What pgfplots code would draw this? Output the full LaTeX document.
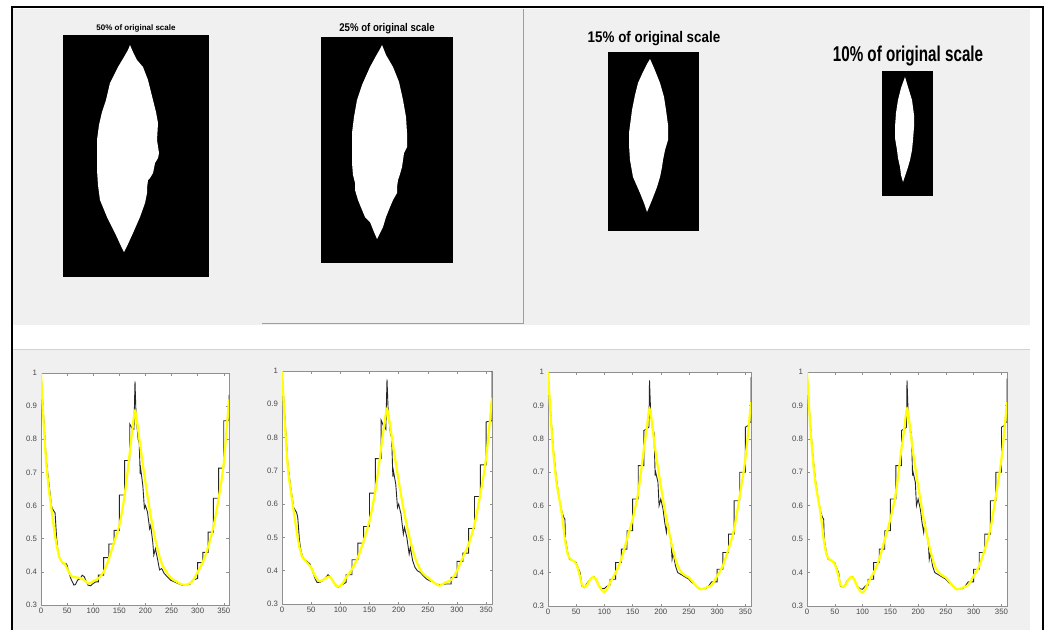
\documentclass[border=0pt]{standalone}
\usepackage{fontspec}
\setmainfont{Liberation Sans}
\usepackage{pgfplots}
\pgfplotsset{compat=1.18}
\definecolor{panel}{HTML}{F0F0F0}
\definecolor{pinkline}{HTML}{E070E0}
\definecolor{yel}{RGB}{255,255,0}
\definecolor{axc}{HTML}{8F8F8F}
\definecolor{labc}{HTML}{484848}
\pgfplotsset{
  curve/.style={scale only axis, anchor=north west, width=#1,
    height=232pt, xmin=0, xmax=360, ymin=0.3, ymax=1,
    xtick={0,50,...,350}, ytick={0.3,0.4,0.5,0.6,0.7,0.8,0.9,1},
    tick align=inside, major tick length=2.5pt,
    axis line style={axc, line width=0.6pt},
    tick style={axc, line width=0.5pt},
    ticklabel style={font=\fontsize{7.8}{9}\selectfont, text=labc},
    /pgf/number format/assume math mode=true,
    yticklabel style={/pgf/number format/fixed, /pgf/number format/precision=1, xshift=-0.5pt},
    xticklabel style={/pgf/number format/fixed},
    axis background/.style={fill=white},
    clip=true},
  curve/.default=188pt,
  leaf/.style n args={4}{scale only axis, anchor=north west, hide axis,
    xmin=#1, xmax=#2, ymin=#3, ymax=#4, y dir=reverse, clip=false},
  blk/.style={black!85, line width=0.9pt},
  yl/.style={yel, line width=2.2pt, smooth, tension=0.5},
}
\begin{document}
\begin{tikzpicture}
\useasboundingbox (0,0) rectangle (1047pt,-630pt);
\fill[white] (0,0) rectangle (1047pt,-630pt);
\fill[panel] (13pt,-9pt) rectangle (1030pt,-325pt);
\fill[panel] (13pt,-349pt) rectangle (1030pt,-630pt);
\draw[gray!35, line width=0.6pt] (13pt,-349pt) -- (1030pt,-349pt);
\draw[pinkline, line width=1pt] (262pt,-323pt) -- (523pt,-323pt) -- (523pt,-9pt);
\draw[black, line width=2pt] (12pt,-630pt) -- (12pt,-7pt) -- (1043pt,-7pt) -- (1043pt,-630pt);

% titles
\node[anchor=base, inner sep=0pt] at (136pt,-30.7pt) {\fontsize{8}{9}\selectfont\bfseries 50\% of original scale};
\node[anchor=base, inner sep=0pt] at (387pt,-31pt) {\scalebox{0.86}[1]{\fontsize{11.2}{12}\selectfont\bfseries 25\% of original scale}};
\node[anchor=base, inner sep=0pt] at (654pt,-42.7pt) {\scalebox{0.87}[1]{\fontsize{15.4}{17}\selectfont\bfseries 15\% of original scale}};
\node[anchor=base, inner sep=0pt] at (908pt,-61pt) {\scalebox{0.71}[1]{\fontsize{21.4}{23}\selectfont\bfseries 10\% of original scale}};

% leaf 1
\begin{axis}[leaf={63}{209}{35}{277}, at={(63pt,-35pt)}, width=146pt, height=242pt]
\addplot[fill=black, draw=none] coordinates {(63,35)(209,35)(209,277)(63,277)};
\addplot[fill=white, draw=none] coordinates {(130,45)(133,52)(137,60)(143,67)(148,80)(153,100)(156,112)(158,123)(157,140)(159,153)(158,158)(155,163)(154,168)(153,173)(150,178)(148,180)(147,188)(147,193)(145,203)(140,217)(133,233)(128,244)(124,252)(121,246)(115,233)(107,217)(100,200)(98,185)(97,170)(97,155)(97,140)(99,125)(102,112)(106,100)(110,83)(118,67)(124,57)(128,50)};
\end{axis}
% leaf 2
\begin{axis}[leaf={321}{453}{37}{263}, at={(321pt,-37pt)}, width=132pt, height=226pt]
\addplot[fill=black, draw=none] coordinates {(321,37)(453,37)(453,263)(321,263)};
\addplot[fill=white, draw=none] coordinates {(382,45)(386,55)(393,67)(399,82)(403,100)(406,117)(407,133)(407,147)(404,153)(403,160)(402,167)(400,174)(398,180)(397,187)(397,193)(393,200)(390,207)(386,217)(383,227)(379,235)(377,239)(374,232)(370,222)(365,217)(360,205)(358,200)(355,190)(355,183)(353,175)(352,163)(352,150)(352,133)(354,117)(357,100)(362,85)(370,67)(376,56)(380,49)};
\end{axis}
% leaf 3
\begin{axis}[leaf={608}{699}{52}{231}, at={(608pt,-52pt)}, width=91pt, height=179pt]
\addplot[fill=black, draw=none] coordinates {(608,52)(699,52)(699,231)(608,231)};
\addplot[fill=white, draw=none] coordinates {(650,59)(654,68)(660,83)(664,97)(666,110)(668,125)(668,140)(665,150)(663,160)(662,167)(660,177)(657,187)(652,200)(647,212)(644,203)(640,193)(633,177)(630,160)(629,145)(629,133)(631,118)(632,110)(635,95)(638,83)(643,72)(647,64)};
\end{axis}
% leaf 4
\begin{axis}[leaf={882}{933}{71}{196}, at={(882pt,-71pt)}, width=51pt, height=125pt]
\addplot[fill=black, draw=none] coordinates {(882,71)(933,71)(933,196)(882,196)};
\addplot[fill=white, draw=none] coordinates {(905,77)(908,87)(912,100)(914,115)(914,127)(913,140)(912,150)(910,160)(908,167)(905,176)(903,182)(901,175)(900,167)(898,158)(897,150)(895,138)(895,127)(896,113)(898,100)(901,88)};
\end{axis}

% plot 1
\begin{axis}[curve=188pt, at={(41pt,-373pt)}]
\addplot[blk] coordinates {(0,1.0)(5,0.87)(10,0.74)(15,0.67)(20,0.60)(22,0.59)(27,0.578)(30,0.50)(32,0.47)(35,0.445)(40,0.43)(42,0.425)(48,0.425)(50,0.42)(53,0.40)(57,0.38)(60,0.37)(63,0.36)(66,0.362)(70,0.375)(75,0.38)(79,0.39)(83,0.385)(87,0.37)(90,0.36)(95,0.358)(100,0.365)(105,0.37)(110,0.37)(110,0.39)(120,0.39)(120,0.443)(130,0.443)(130,0.484)(140,0.484)(140,0.525)(150,0.525)(150,0.632)(160,0.632)(160,0.736)(170,0.736)(170,0.846)(174,0.834)(178,0.83)(180,0.975)(182,0.87)(186,0.80)(188,0.79)(190,0.695)(191,0.71)(195,0.66)(198,0.592)(200,0.60)(204,0.58)(208,0.53)(210,0.54)(214,0.49)(216,0.451)(219,0.47)(223,0.44)(227,0.406)(231,0.41)(236,0.395)(242,0.385)(248,0.375)(255,0.37)(262,0.365)(270,0.36)(285,0.362)(290,0.375)(300,0.38)(300,0.428)(310,0.428)(310,0.459)(320,0.459)(320,0.52)(330,0.52)(330,0.622)(340,0.622)(340,0.713)(350,0.713)(350,0.856)(358,0.856)(360,0.86)(360,0.934)};
\addplot[yl] coordinates {(0,1.0)(5,0.85)(10,0.73)(15,0.65)(20,0.59)(25,0.53)(30,0.48)(35,0.445)(40,0.43)(45,0.425)(50,0.41)(55,0.395)(60,0.385)(70,0.383)(80,0.378)(85,0.372)(90,0.365)(95,0.366)(100,0.372)(110,0.38)(120,0.40)(130,0.44)(140,0.49)(150,0.54)(160,0.63)(170,0.76)(175,0.83)(180,0.885)(185,0.84)(190,0.78)(200,0.67)(210,0.57)(220,0.49)(230,0.43)(240,0.40)(250,0.38)(260,0.37)(270,0.362)(280,0.362)(290,0.372)(300,0.40)(310,0.43)(320,0.475)(330,0.535)(340,0.62)(350,0.73)(360,0.92)};
\end{axis}

% plot 2
\begin{axis}[curve=210pt, at={(282pt,-371pt)}, height=233pt]
\addplot[blk] coordinates {(0,1.0)(5,0.86)(10,0.72)(15,0.65)(20,0.59)(25,0.575)(27,0.56)(30,0.49)(33,0.455)(37,0.435)(42,0.43)(48,0.42)(50,0.41)(53,0.395)(57,0.375)(60,0.365)(65,0.365)(70,0.37)(75,0.38)(79,0.388)(83,0.38)(87,0.37)(92,0.355)(96,0.35)(100,0.355)(105,0.36)(110,0.365)(110,0.388)(120,0.388)(120,0.433)(130,0.433)(130,0.483)(140,0.483)(140,0.533)(150,0.533)(150,0.633)(160,0.633)(160,0.737)(170,0.737)(170,0.852)(174,0.835)(178,0.825)(180,0.975)(182,0.88)(186,0.81)(188,0.80)(190,0.683)(191,0.70)(195,0.66)(198,0.59)(200,0.60)(204,0.57)(208,0.51)(210,0.53)(214,0.50)(218,0.45)(220,0.47)(224,0.43)(228,0.41)(232,0.40)(237,0.395)(242,0.385)(248,0.375)(253,0.37)(260,0.365)(265,0.36)(270,0.358)(280,0.36)(290,0.36)(290,0.38)(300,0.38)(300,0.428)(310,0.428)(310,0.453)(320,0.453)(320,0.527)(330,0.527)(330,0.623)(340,0.623)(340,0.718)(350,0.718)(350,0.847)(358,0.85)(360,0.85)(360,1.0)};
\addplot[yl] coordinates {(0,1.0)(5,0.84)(10,0.71)(15,0.64)(20,0.58)(25,0.52)(30,0.47)(35,0.44)(40,0.43)(45,0.42)(50,0.41)(55,0.39)(60,0.375)(65,0.368)(70,0.372)(80,0.382)(85,0.375)(90,0.362)(95,0.352)(100,0.355)(105,0.365)(110,0.38)(120,0.405)(130,0.44)(140,0.49)(150,0.55)(160,0.64)(170,0.77)(175,0.835)(180,0.885)(185,0.84)(190,0.78)(200,0.67)(210,0.57)(220,0.49)(230,0.43)(240,0.395)(250,0.38)(260,0.365)(270,0.355)(280,0.365)(290,0.372)(300,0.40)(310,0.44)(320,0.48)(330,0.54)(340,0.63)(350,0.74)(360,0.92)};
\end{axis}

% plot 3
\begin{axis}[curve=203pt, at={(548pt,-372pt)}, height=234pt]
\addplot[blk] coordinates {(0,1.0)(5,0.87)(10,0.76)(15,0.68)(20,0.62)(25,0.58)(28,0.565)(30,0.56)(31,0.50)(35,0.46)(38,0.44)(45,0.435)(50,0.43)(53,0.415)(57,0.40)(60,0.36)(65,0.355)(68,0.365)(72,0.375)(78,0.385)(82,0.387)(86,0.375)(90,0.36)(95,0.352)(100,0.352)(105,0.36)(110,0.362)(110,0.38)(120,0.38)(120,0.43)(130,0.43)(130,0.47)(140,0.47)(140,0.525)(150,0.525)(150,0.62)(160,0.62)(160,0.72)(170,0.72)(170,0.825)(175,0.83)(179,0.835)(180,0.975)(182,0.88)(186,0.82)(188,0.82)(190,0.69)(191,0.70)(195,0.67)(197,0.60)(200,0.62)(204,0.59)(207,0.55)(210,0.52)(212,0.55)(216,0.51)(218,0.50)(220,0.44)(222,0.46)(226,0.42)(230,0.40)(235,0.395)(240,0.39)(245,0.385)(250,0.38)(255,0.37)(260,0.365)(265,0.355)(270,0.352)(280,0.352)(285,0.36)(290,0.372)(300,0.372)(300,0.41)(310,0.41)(310,0.46)(320,0.46)(320,0.515)(330,0.515)(330,0.615)(340,0.615)(340,0.70)(350,0.70)(350,0.835)(355,0.84)(358,0.85)(360,0.85)(360,0.985)};
\addplot[yl] coordinates {(0,1.0)(5,0.86)(10,0.75)(15,0.67)(20,0.62)(25,0.57)(30,0.50)(35,0.455)(40,0.44)(45,0.435)(50,0.425)(55,0.40)(60,0.365)(65,0.357)(70,0.365)(75,0.38)(80,0.387)(85,0.38)(90,0.362)(95,0.348)(100,0.342)(105,0.352)(110,0.37)(120,0.40)(130,0.44)(140,0.50)(150,0.56)(160,0.64)(170,0.77)(175,0.83)(180,0.89)(185,0.84)(190,0.77)(200,0.66)(210,0.56)(220,0.48)(230,0.42)(240,0.395)(250,0.385)(260,0.365)(270,0.35)(280,0.355)(290,0.362)(300,0.39)(310,0.42)(320,0.47)(330,0.53)(340,0.63)(350,0.74)(360,0.91)};
\end{axis}

% plot 4
\begin{axis}[curve=200pt, at={(807pt,-372pt)}, height=234pt]
\addplot[blk] coordinates {(0,1.0)(5,0.87)(10,0.76)(15,0.68)(20,0.62)(25,0.58)(28,0.565)(30,0.56)(31,0.50)(35,0.46)(38,0.44)(45,0.435)(50,0.43)(53,0.415)(57,0.40)(60,0.36)(65,0.355)(68,0.362)(72,0.375)(78,0.385)(82,0.388)(86,0.375)(90,0.36)(95,0.352)(100,0.35)(105,0.36)(110,0.362)(110,0.38)(120,0.38)(120,0.43)(130,0.43)(130,0.47)(140,0.47)(140,0.525)(150,0.525)(150,0.62)(160,0.62)(160,0.72)(170,0.72)(170,0.825)(175,0.83)(179,0.835)(180,0.975)(182,0.88)(186,0.82)(188,0.82)(190,0.69)(191,0.70)(195,0.67)(197,0.60)(200,0.62)(204,0.59)(207,0.55)(210,0.52)(212,0.55)(216,0.51)(218,0.50)(220,0.44)(222,0.46)(226,0.42)(230,0.40)(235,0.395)(240,0.39)(245,0.385)(250,0.38)(255,0.37)(260,0.365)(265,0.355)(270,0.35)(280,0.352)(285,0.36)(290,0.372)(300,0.372)(300,0.41)(310,0.41)(310,0.46)(320,0.46)(320,0.515)(330,0.515)(330,0.615)(340,0.615)(340,0.70)(350,0.70)(350,0.835)(355,0.84)(358,0.85)(360,0.85)(360,0.98)};
\addplot[yl] coordinates {(0,1.0)(5,0.86)(10,0.75)(15,0.67)(20,0.62)(25,0.57)(30,0.50)(35,0.455)(40,0.44)(45,0.435)(50,0.425)(55,0.40)(60,0.365)(65,0.357)(70,0.365)(75,0.38)(80,0.387)(85,0.38)(90,0.36)(95,0.347)(100,0.34)(105,0.35)(110,0.37)(120,0.40)(130,0.44)(140,0.50)(150,0.56)(160,0.64)(170,0.77)(175,0.83)(180,0.89)(185,0.84)(190,0.77)(200,0.66)(210,0.56)(220,0.48)(230,0.42)(240,0.395)(250,0.385)(260,0.365)(270,0.35)(280,0.355)(290,0.362)(300,0.39)(310,0.42)(320,0.47)(330,0.53)(340,0.63)(350,0.74)(360,0.91)};
\end{axis}
\end{tikzpicture}
\end{document}
